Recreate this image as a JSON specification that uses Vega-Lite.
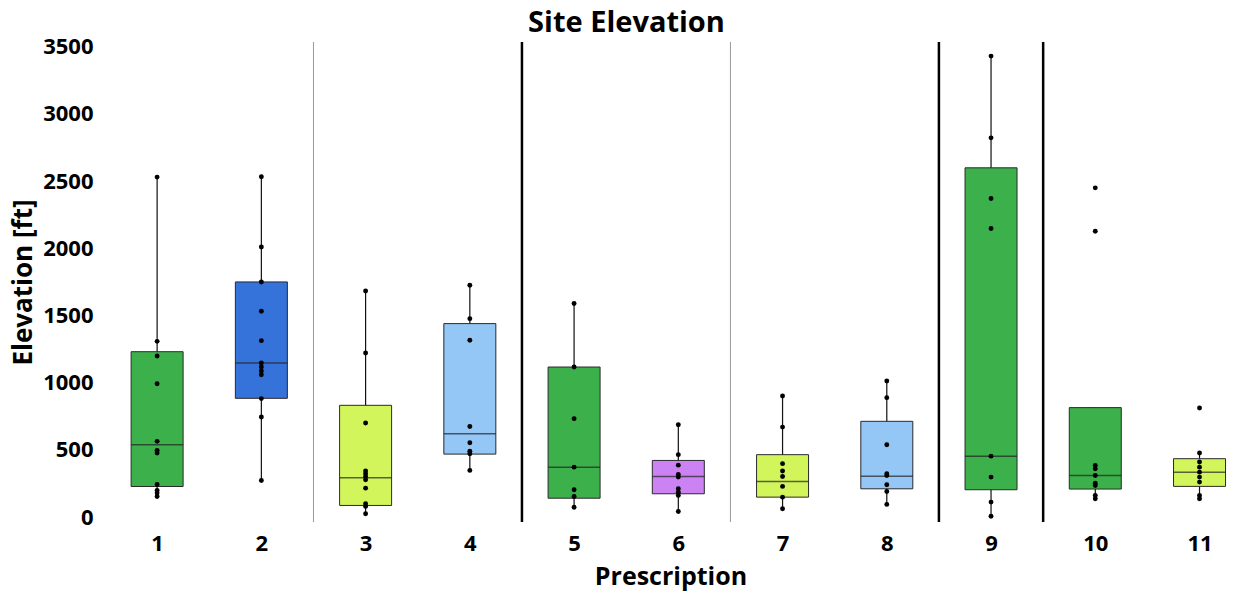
{
  "$schema": "https://vega.github.io/schema/vega-lite/v6.json",
  "autosize": "none",
  "width": 1141,
  "height": 480,
  "padding": {"left": 100, "top": 42, "right": 0, "bottom": 74},
  "background": "white",
  "config": {"view": {"stroke": null}, "font": "Open Sans"},
  "title": {"text": "Site Elevation", "fontSize": 29, "fontWeight": "bold", "font": "Open Sans", "color": "#000", "anchor": "middle", "dx": -44, "baseline": "top", "offset": 0, "dy": 2},
  "datasets": {
    "boxes": [
      {"p": 1, "lo": 154, "q1": 228, "med": 538, "q3": 1231, "hi": 2530, "grp": "green"},
      {"p": 2, "lo": 273, "q1": 884, "med": 1147, "q3": 1750, "hi": 2532, "grp": "blue"},
      {"p": 3, "lo": 25, "q1": 87, "med": 293, "q3": 832, "hi": 1683, "grp": "lime"},
      {"p": 4, "lo": 348, "q1": 469, "med": 621, "q3": 1440, "hi": 1725, "grp": "lightblue"},
      {"p": 5, "lo": 74, "q1": 141, "med": 372, "q3": 1117, "hi": 1589, "grp": "green"},
      {"p": 6, "lo": 42, "q1": 174, "med": 303, "q3": 422, "hi": 688, "grp": "purple"},
      {"p": 7, "lo": 63, "q1": 149, "med": 266, "q3": 465, "hi": 901, "grp": "lime"},
      {"p": 8, "lo": 95, "q1": 211, "med": 305, "q3": 713, "hi": 1013, "grp": "lightblue"},
      {"p": 9, "lo": 7, "q1": 204, "med": 454, "q3": 2599, "hi": 3430, "grp": "green"},
      {"p": 10, "lo": 137, "q1": 209, "med": 310, "q3": 815, "hi": 815, "grp": "green"},
      {"p": 11, "lo": 137, "q1": 229, "med": 335, "q3": 435, "hi": 477, "grp": "lime"}
    ],
    "points": [
      {"p": 1, "v": 2530}, {"p": 1, "v": 1308}, {"p": 1, "v": 1199}, {"p": 1, "v": 993}, {"p": 1, "v": 564}, {"p": 1, "v": 497}, {"p": 1, "v": 477}, {"p": 1, "v": 243}, {"p": 1, "v": 199}, {"p": 1, "v": 179}, {"p": 1, "v": 154},
      {"p": 2, "v": 2532}, {"p": 2, "v": 2010}, {"p": 2, "v": 1750}, {"p": 2, "v": 1532}, {"p": 2, "v": 1313}, {"p": 2, "v": 1147}, {"p": 2, "v": 1117}, {"p": 2, "v": 1087}, {"p": 2, "v": 1060}, {"p": 2, "v": 882}, {"p": 2, "v": 745}, {"p": 2, "v": 273},
      {"p": 3, "v": 1683}, {"p": 3, "v": 1221}, {"p": 3, "v": 700}, {"p": 3, "v": 343}, {"p": 3, "v": 323}, {"p": 3, "v": 303}, {"p": 3, "v": 278}, {"p": 3, "v": 216}, {"p": 3, "v": 100}, {"p": 3, "v": 80}, {"p": 3, "v": 25},
      {"p": 4, "v": 1725}, {"p": 4, "v": 1477}, {"p": 4, "v": 1316}, {"p": 4, "v": 675}, {"p": 4, "v": 554}, {"p": 4, "v": 491}, {"p": 4, "v": 472}, {"p": 4, "v": 348},
      {"p": 5, "v": 1589}, {"p": 5, "v": 1117}, {"p": 5, "v": 733}, {"p": 5, "v": 372}, {"p": 5, "v": 204}, {"p": 5, "v": 154}, {"p": 5, "v": 74},
      {"p": 6, "v": 688}, {"p": 6, "v": 465}, {"p": 6, "v": 387}, {"p": 6, "v": 318}, {"p": 6, "v": 298}, {"p": 6, "v": 211}, {"p": 6, "v": 186}, {"p": 6, "v": 162}, {"p": 6, "v": 42},
      {"p": 7, "v": 901}, {"p": 7, "v": 670}, {"p": 7, "v": 398}, {"p": 7, "v": 343}, {"p": 7, "v": 303}, {"p": 7, "v": 229}, {"p": 7, "v": 149}, {"p": 7, "v": 63},
      {"p": 8, "v": 1013}, {"p": 8, "v": 889}, {"p": 8, "v": 539}, {"p": 8, "v": 323}, {"p": 8, "v": 310}, {"p": 8, "v": 241}, {"p": 8, "v": 191}, {"p": 8, "v": 95},
      {"p": 9, "v": 3430}, {"p": 9, "v": 2822}, {"p": 9, "v": 2371}, {"p": 9, "v": 2147}, {"p": 9, "v": 454}, {"p": 9, "v": 298}, {"p": 9, "v": 112}, {"p": 9, "v": 7},
      {"p": 10, "v": 2450}, {"p": 10, "v": 2127}, {"p": 10, "v": 385}, {"p": 10, "v": 360}, {"p": 10, "v": 310}, {"p": 10, "v": 253}, {"p": 10, "v": 236}, {"p": 10, "v": 162}, {"p": 10, "v": 137},
      {"p": 11, "v": 812}, {"p": 11, "v": 477}, {"p": 11, "v": 410}, {"p": 11, "v": 372}, {"p": 11, "v": 335}, {"p": 11, "v": 298}, {"p": 11, "v": 261}, {"p": 11, "v": 162}, {"p": 11, "v": 137}
    ],
    "seps": [
      {"s": 2.5, "kind": "thin"}, {"s": 4.5, "kind": "thick"}, {"s": 6.5, "kind": "thin"}, {"s": 8.5, "kind": "thick"}, {"s": 9.5, "kind": "thick"}
    ]
  },
  "encoding": {
    "x": {
      "field": "p", "type": "quantitative",
      "scale": {"domain": [0.5, 11.35], "nice": false, "zero": false},
      "axis": {"values": [1,2,3,4,5,6,7,8,9,10,11], "format": "d", "labelOverlap": false, "grid": false, "domain": false, "ticks": false, "tickSize": 0, "labelPadding": 11, "labelFontSize": 22, "labelFontWeight": "bold", "labelColor": "#000", "labelFont": "Open Sans", "title": "Prescription", "titleFontSize": 25, "titleFontWeight": "bold", "titleColor": "#000", "titleFont": "Open Sans", "titlePadding": 10}
    }
  },
  "layer": [
    {
      "data": {"name": "seps"},
      "transform": [{"filter": "datum.kind === 'thin'"}],
      "mark": {"type": "rule", "color": "#9a9a9a", "strokeWidth": 1},
      "encoding": {"x": {"field": "s", "type": "quantitative"}}
    },
    {
      "data": {"name": "seps"},
      "transform": [{"filter": "datum.kind === 'thick'"}],
      "mark": {"type": "rule", "color": "#000", "strokeWidth": 2.5},
      "encoding": {"x": {"field": "s", "type": "quantitative"}}
    },
    {
      "data": {"name": "boxes"},
      "mark": {"type": "rule", "color": "#111", "strokeWidth": 1.2},
      "encoding": {
        "y": {"field": "lo", "type": "quantitative",
          "scale": {"domain": [-36, 3535], "nice": false, "zero": false},
          "axis": {"values": [0,500,1000,1500,2000,2500,3000,3500], "format": "d", "grid": false, "domain": false, "ticks": false, "tickSize": 0, "labelPadding": 7, "labelFontSize": 22, "labelFontWeight": "bold", "labelColor": "#000", "labelFont": "Open Sans", "title": "Elevation [ft]", "titleFontSize": 26, "titleFontWeight": "bold", "titleColor": "#000", "titleFont": "Open Sans", "titleBaseline": "alphabetic", "titleX": -69, "titleY": 240}},
        "y2": {"field": "hi"}
      }
    },
    {
      "data": {"name": "boxes"},
      "mark": {"type": "bar", "size": 52, "stroke": "#2a2a2a", "strokeWidth": 1},
      "encoding": {
        "y": {"field": "q1", "type": "quantitative"},
        "y2": {"field": "q3"},
        "fill": {"field": "grp", "type": "nominal", "legend": null,
          "scale": {"domain": ["green", "blue", "lime", "lightblue", "purple"], "range": ["#3cb04a", "#3572da", "#d2f55c", "#94c6f6", "#cb82f2"]}}
      }
    },
    {
      "data": {"name": "boxes"},
      "mark": {"type": "tick", "orient": "horizontal", "size": 52, "thickness": 1.5, "color": "#222"},
      "encoding": {"y": {"field": "med", "type": "quantitative"}}
    },
    {
      "data": {"name": "points"},
      "mark": {"type": "circle", "size": 24, "color": "#000", "opacity": 1},
      "encoding": {"y": {"field": "v", "type": "quantitative"}}
    }
  ]
}
